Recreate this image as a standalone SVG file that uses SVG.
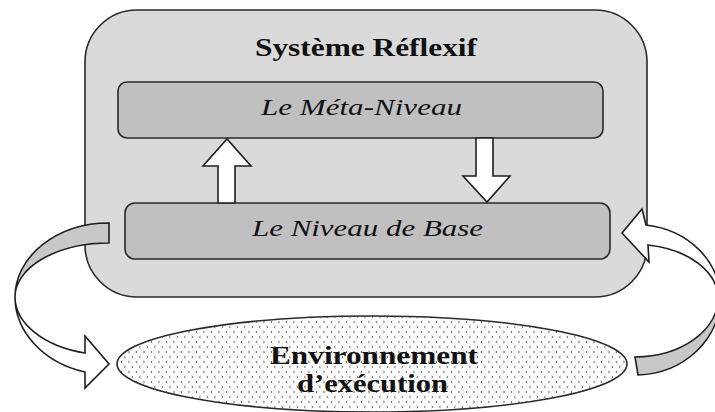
<svg xmlns="http://www.w3.org/2000/svg" width="715" height="412" viewBox="0 0 715 412">
  <defs>
    <!-- small chevron texture used inside the environment ellipse -->
    <pattern id="chevrons" x="0" y="0" width="15" height="10" patternUnits="userSpaceOnUse">
      <rect width="15" height="10" fill="#ffffff"/>
      <path d="M2.2,1 L0.8,2 L2.2,3 M8.2,1 L9.6,2 L8.2,3 M5.6,6 L4.2,7 L5.6,8 M11.6,6 L13,7 L11.6,8" fill="none" stroke="#555" stroke-width="0.8"/>
    </pattern>
    <style>
      .outer { fill: #dadada; stroke: #2a2a2a; stroke-width: 1.6; }
      .level { fill: #c0c0c0; stroke: #2a2a2a; stroke-width: 1.6; }
      .env { fill: url(#chevrons); stroke: #2a2a2a; stroke-width: 1.6; }
      .arrow-white { fill: #ffffff; stroke: #1e1e1e; stroke-width: 1.6; stroke-linejoin: miter; }
      .arrow-gray { fill: #c8c8c8; stroke: #1e1e1e; stroke-width: 1.6; stroke-linejoin: miter; }
      .title { font-family: "Liberation Serif", "Times New Roman", serif; font-weight: bold; font-size: 26px; fill: #111; }
      .label { font-family: "Liberation Serif", "Times New Roman", serif; font-style: italic; font-size: 23px; fill: #111; }
      .envtext { font-family: "Liberation Serif", "Times New Roman", serif; font-weight: bold; font-size: 25px; fill: #111; }
    </style>
  </defs>

  <!-- reflexive system container -->
  <g id="systeme-reflexif">
    <rect class="outer" x="85" y="10" width="562" height="287" rx="52" ry="52"/>
    <text class="title" x="255" y="56" textLength="222" lengthAdjust="spacingAndGlyphs">Système Réflexif</text>
  </g>

  <!-- meta level -->
  <g id="meta-niveau">
    <rect class="level" x="118" y="82" width="485" height="56" rx="9" ry="9"/>
    <text class="label" x="261" y="115" textLength="201" lengthAdjust="spacingAndGlyphs">Le Méta-Niveau</text>
  </g>

  <!-- base level -->
  <g id="niveau-base">
    <rect class="level" x="125" y="203" width="485" height="56" rx="10" ry="10"/>
    <text class="label" x="252" y="236" textLength="231" lengthAdjust="spacingAndGlyphs">Le Niveau de Base</text>
  </g>

  <!-- execution environment -->
  <g id="environnement">
    <ellipse class="env" cx="372" cy="364" rx="255" ry="48"/>
    <text class="envtext" x="270" y="364" textLength="208" lengthAdjust="spacingAndGlyphs">Environnement</text>
    <text class="envtext" x="297" y="392" textLength="151" lengthAdjust="spacingAndGlyphs">d’exécution</text>
  </g>

  <!-- connectors -->
  <g id="connecteurs">
    <!-- base level up to meta level -->
    <polygon class="arrow-white" points="218,203 218,166 203,166 227,139 251,166 235,166 235,203"/>
    <!-- meta level down to base level -->
    <polygon class="arrow-white" points="476,138 493,138 493,176 510,176 487,202 463,176 476,176"/>

    <!-- base level out to the environment (left loop) -->
    <path class="arrow-white" d="M15,297 A94,58 0 0 0 85,353 L85,336 L109,364 L85,388 L85,372 A95,78 0 0 1 15,297 Z"/>
    <path class="arrow-gray" d="M109,223 A94,74 0 0 0 15,297 A94,54 0 0 1 109,243 Z"/>

    <!-- environment back into base level (right loop) -->
    <path class="arrow-gray" d="M638,375 A85,77 0 0 0 720,298 L718,298 A83,59 0 0 1 635,357 Z"/>
    <path class="arrow-white" d="M720,298 A85,74 0 0 0 646,225 L642,209 L622,233 L649,262 L648,245 A83,54 0 0 1 718,298 Z"/>
  </g>
</svg>
